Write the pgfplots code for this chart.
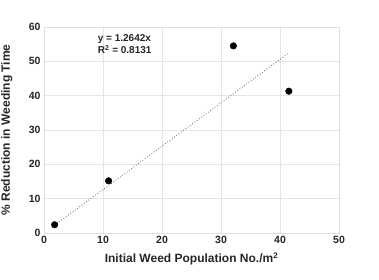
\documentclass[border=0pt]{standalone}
\usepackage{fontspec}
\setmainfont{Liberation Sans}
\usepackage{pgfplots}
\pgfplotsset{compat=1.18}
\begin{document}
\begin{tikzpicture}
\path[use as bounding box] (0,0) rectangle (379pt,280pt);
\begin{axis}[
  at={(44pt,47pt)}, anchor=south west,
  width=295pt, height=206pt, scale only axis,
  xmin=0, xmax=50, ymin=0, ymax=60,
  xtick={0,10,...,50}, ytick={0,10,...,60},
  grid=major,
  grid style={gray!20, line width=0.6pt},
  axis line style={gray!25, line width=0.6pt},
  tick style={draw=none},
  ticklabel style={font=\bfseries\fontsize{10.5}{12}\selectfont, text=black!85},
  /pgf/number format/assume math mode=true,
  xlabel={\bfseries Initial Weed Population No./m\textsuperscript{2}},
  ylabel={\bfseries \% Reduction in Weeding Time},
  label style={font=\bfseries\fontsize{12}{14}\selectfont, text=black!85},
  xlabel style={at={(axis description cs:0.5,0)}, anchor=north, yshift=-16pt},
  ylabel style={at={(axis description cs:0,0.5)}, anchor=south, yshift=28pt},
  clip=false,
]
\addplot[only marks, mark=*, mark size=3.3pt, black] coordinates {
  (1.8,2.4) (10.95,15.2) (32.1,54.5) (41.5,41.3)
};
\addplot[gray!80!black, dotted, line width=0.8pt] coordinates {
  (1.8,2.28) (41.3,52.2)
};
\node[anchor=north west, font=\bfseries\fontsize{10}{12}\selectfont, align=left, inner sep=0pt, text=black!85] at (axis cs:9.1,57.8) {y = 1.2642x\\R\textsuperscript{2} = 0.8131};
\end{axis}
\end{tikzpicture}
\end{document}
